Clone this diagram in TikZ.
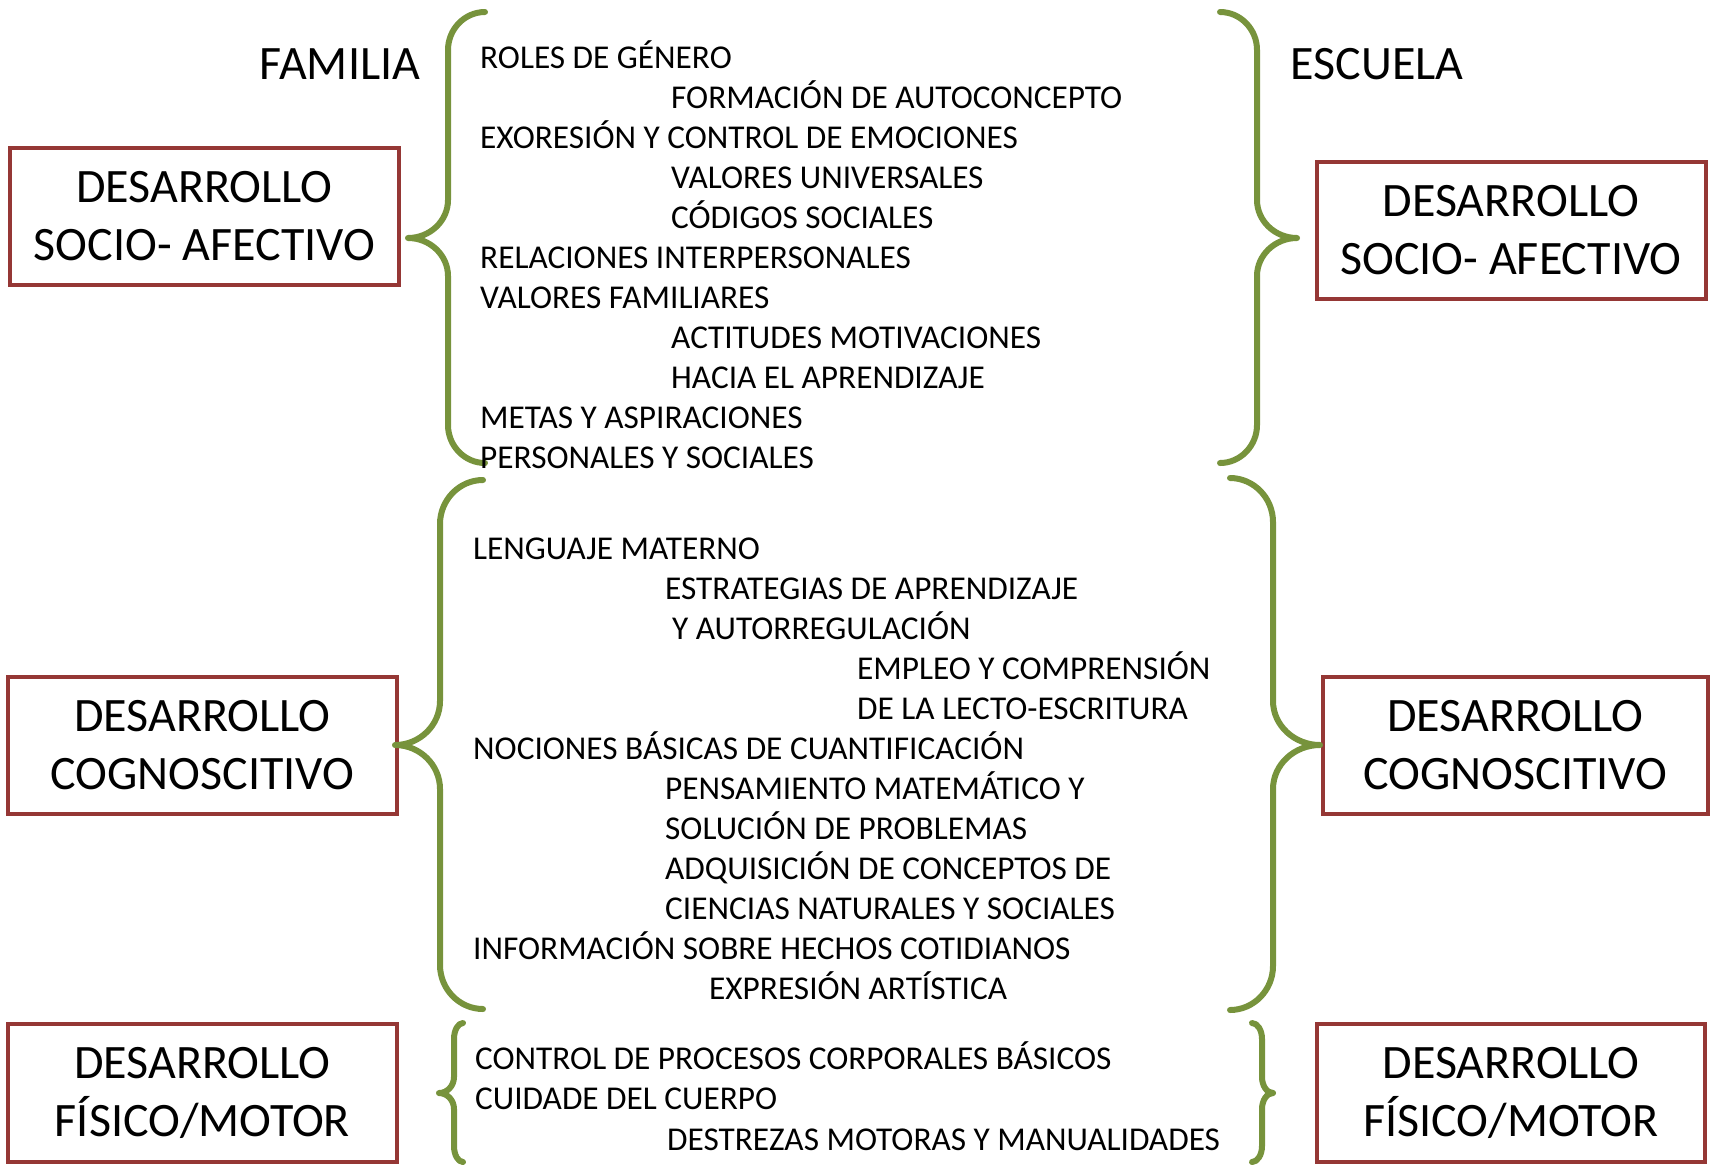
\documentclass[tikz,border=0pt]{standalone}
\usepackage{fontspec}
\setmainfont{Carlito}
\definecolor{boxred}{RGB}{149,55,53}
\definecolor{bracegreen}{RGB}{119,147,60}
\newcommand\mybrace[7]{%
\draw[bracestyle] (#1,#4) .. controls ({#1+0.55*(#2-#1)},#4) and (#2,{#4+0.45*#7}) .. (#2,{#4+#7})
 -- (#2,{#5-#7}) .. controls (#2,{#5-0.45*#7}) and ({#3+0.55*(#2-#3)},#5) .. (#3,#5)
 .. controls ({#3+0.55*(#2-#3)},#5) and (#2,{#5+0.45*#7}) .. (#2,{#5+#7})
 -- (#2,{#6-#7}) .. controls (#2,{#6-0.45*#7}) and ({#1+0.55*(#2-#1)},#6) .. (#1,#6);}
\begin{document}
\begin{tikzpicture}[x={(1pt,0)},y={(0,-1pt)},
  bracestyle/.style={draw=bracegreen,line width=6pt,line cap=round,line join=round},
  devbox/.style={draw=boxred,line width=4pt,inner sep=0pt,align=center,
    minimum width=389pt,minimum height=137pt,font=\fontsize{48}{58}\selectfont},
  head/.style={inner sep=0pt,anchor=base,font=\fontsize{48}{58}\selectfont},
  item/.style={inner sep=0pt,anchor=base west,font=\fontsize{33.3}{40}\selectfont}]
\useasboundingbox (0,0) rectangle (1710,1168);

% headings
\node[head] (fam) at (340,79) {FAMILIA};
\node[head] (esc) at (1377,79) {ESCUELA};

% boxes
\node[devbox] (sa1) at (204.5,216) {DESARROLLO\\SOCIO- AFECTIVO};
\node[devbox] (sa2) at (1511,230.5) {DESARROLLO\\SOCIO- AFECTIVO};
\node[devbox] (cg1) at (202.5,745) {DESARROLLO\\COGNOSCITIVO};
\node[devbox,minimum width=385pt] (cg2) at (1515.5,745) {DESARROLLO\\COGNOSCITIVO};
\node[devbox,minimum height=138pt] (fm1) at (202.5,1093) {DESARROLLO\\FÍSICO/MOTOR};
\node[devbox,minimum width=388pt,minimum height=138pt] (fm2) at (1511,1093) {DESARROLLO\\FÍSICO/MOTOR};

% braces
\mybrace{485}{448}{408}{12}{238}{463}{38}
\mybrace{1220}{1257}{1297}{12}{238}{463}{38}
\mybrace{483}{440}{395}{480}{745}{1009}{44}
\mybrace{1230}{1273}{1320}{478}{745}{1010}{44}
\mybrace{463}{454}{439}{1023}{1093}{1162}{16}
\mybrace{1252}{1262}{1273}{1023}{1093}{1162}{16}

% socio-afectivo items
\node[item] (s1) at (480,68) {ROLES DE GÉNERO};
\node[item] (s2) at (671,108) {FORMACIÓN DE AUTOCONCEPTO};
\node[item] (s3) at (480,148) {EXORESIÓN Y CONTROL DE EMOCIONES};
\node[item] (s4) at (671,188) {VALORES UNIVERSALES};
\node[item] (s5) at (671,228) {CÓDIGOS SOCIALES};
\node[item] (s6) at (480,268) {RELACIONES INTERPERSONALES};
\node[item] (s7) at (480,308) {VALORES FAMILIARES};
\node[item] (s8) at (671,348) {ACTITUDES MOTIVACIONES};
\node[item] (s9) at (671,388) {HACIA EL APRENDIZAJE};
\node[item] (s10) at (480,428) {METAS Y ASPIRACIONES};
\node[item] (s11) at (480,468) {PERSONALES Y SOCIALES};

% cognoscitivo items
\node[item] (c1) at (473,559) {LENGUAJE MATERNO};
\node[item] (c2) at (665,599) {ESTRATEGIAS DE APRENDIZAJE};
\node[item] (c3) at (672,639) {Y AUTORREGULACIÓN};
\node[item] (c4) at (857,679) {EMPLEO Y COMPRENSIÓN};
\node[item] (c5) at (857,719) {DE LA LECTO-ESCRITURA};
\node[item] (c6) at (473,759) {NOCIONES BÁSICAS DE CUANTIFICACIÓN};
\node[item] (c7) at (665,799) {PENSAMIENTO MATEMÁTICO Y};
\node[item] (c8) at (665,839) {SOLUCIÓN DE PROBLEMAS};
\node[item] (c9) at (665,879) {ADQUISICIÓN DE CONCEPTOS DE};
\node[item] (c10) at (665,919) {CIENCIAS NATURALES Y SOCIALES};
\node[item] (c11) at (473,959) {INFORMACIÓN SOBRE HECHOS COTIDIANOS};
\node[item] (c12) at (709,999) {EXPRESIÓN ARTÍSTICA};

% fisico/motor items
\node[item] (f1) at (475,1069) {CONTROL DE PROCESOS CORPORALES BÁSICOS};
\node[item] (f2) at (475,1109) {CUIDADE DEL CUERPO};
\node[item] (f3) at (667,1150) {DESTREZAS MOTORAS Y MANUALIDADES};
\end{tikzpicture}
\end{document}
